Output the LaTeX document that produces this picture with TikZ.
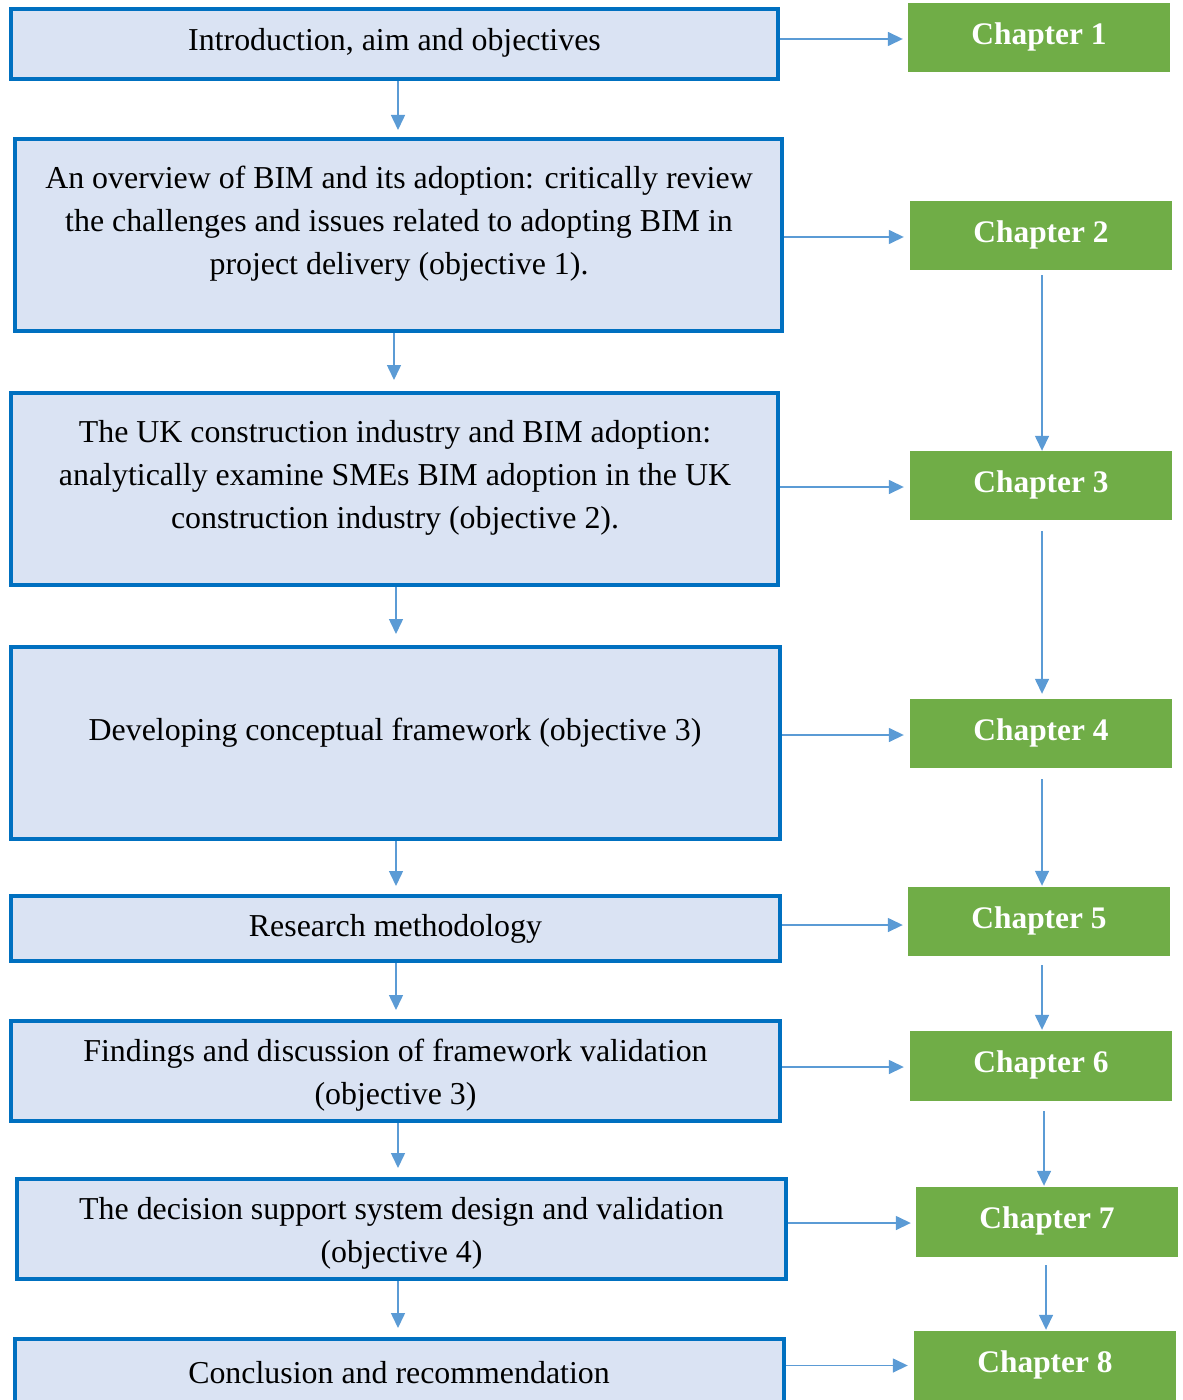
\documentclass[tikz,border=0pt]{standalone}
\usepackage{fontspec}
\setmainfont{Liberation Serif}
\usetikzlibrary{arrows.meta}
\definecolor{boxfill}{HTML}{DAE3F3}
\definecolor{boxline}{HTML}{0070C0}
\definecolor{chapfill}{HTML}{70AD47}
\definecolor{arrowcol}{HTML}{5B9BD5}
\begin{document}
\begin{tikzpicture}[x=1bp,y=-1bp,
  stagebox/.style={draw=boxline,fill=boxfill,line width=4bp,inner sep=0pt,
    minimum width=#1},
  stagebox/.default=767bp,
  chapbox/.style={fill=chapfill,inner sep=0pt,minimum width=262bp,minimum height=69bp},
  stagetext/.style={align=center,inner sep=0pt,font=\fontsize{32}{43}\selectfont},
  chaptext/.style={inner sep=0pt,text=white,font=\fontsize{31.5}{43}\selectfont\bfseries},
  arr/.style={draw=arrowcol,line width=1.5bp,-{Triangle[length=15bp,width=14bp]}}]
\useasboundingbox (0,0) rectangle (1182,1400);

% research stages (left column)
\node[stagebox,minimum height=70bp] (b1) at (394.5,44) {};
\node[stagebox,minimum height=192bp] (b2) at (398.5,235) {};
\node[stagebox,minimum height=192bp] (b3) at (394.5,489) {};
\node[stagebox=769bp,minimum height=192bp] (b4) at (395.5,743) {};
\node[stagebox=769bp,minimum height=65bp] (b5) at (395.5,928.5) {};
\node[stagebox=769bp,minimum height=100bp] (b6) at (395.5,1071) {};
\node[stagebox=769bp,minimum height=100bp] (b7) at (401.5,1229) {};
\node[stagebox=769bp,minimum height=80bp] (b8) at (399.5,1379) {};

\node[stagetext] (t1) at (394.5,43) {Introduction, aim and objectives};
\node[stagetext] (t2) at (399,224) {An overview of BIM and its adoption: critically review\\the challenges and issues related to adopting BIM in\\project delivery (objective 1).};
\node[stagetext] (t3) at (395,478) {The UK construction industry and BIM adoption:\\analytically examine SMEs BIM adoption in the UK\\construction industry (objective 2).};
\node[stagetext] (t4) at (395,733) {Developing conceptual framework (objective 3)};
\node[stagetext] (t5) at (395.5,929) {Research methodology};
\node[stagetext] (t6) at (395.5,1075) {Findings and discussion of framework validation\\(objective 3)};
\node[stagetext] (t7) at (401.5,1233) {The decision support system design and validation\\(objective 4)};
\node[stagetext] (t8) at (399,1373) {Conclusion and recommendation};

% chapters (right column)
\node[chapbox] (c1) at (1039,37.5) {};
\node[chapbox] (c2) at (1041,235.5) {};
\node[chapbox] (c3) at (1041,485.5) {};
\node[chapbox] (c4) at (1041,733.5) {};
\node[chapbox] (c5) at (1039,921.5) {};
\node[chapbox,minimum height=70bp] (c6) at (1041,1066) {};
\node[chapbox,minimum height=70bp] (c7) at (1047,1222) {};
\node[chapbox] (c8) at (1045,1365.5) {};

\node[chaptext] (h1) at (1039,37) {Chapter 1};
\node[chaptext] (h2) at (1041,235) {Chapter 2};
\node[chaptext] (h3) at (1041,485) {Chapter 3};
\node[chaptext] (h4) at (1041,733) {Chapter 4};
\node[chaptext] (h5) at (1039,921) {Chapter 5};
\node[chaptext] (h6) at (1041,1065) {Chapter 6};
\node[chaptext] (h7) at (1047,1221) {Chapter 7};
\node[chaptext] (h8) at (1045,1365) {Chapter 8};

% flow between stages
\draw[arr,shorten >=7bp] ([xshift=3.5bp]b1.south) -- ([xshift=3.5bp]b1.south |- b2.north);
\draw[arr,shorten >=11bp] ([xshift=-4.5bp]b2.south) -- ([xshift=-4.5bp]b2.south |- b3.north);
\draw[arr,shorten >=11bp] ([xshift=1.5bp]b3.south) -- ([xshift=1.5bp]b3.south |- b4.north);
\draw[arr,shorten >=8bp] ([xshift=0.5bp]b4.south) -- ([xshift=0.5bp]b4.south |- b5.north);
\draw[arr,shorten >=9bp] ([xshift=0.5bp]b5.south) -- ([xshift=0.5bp]b5.south |- b6.north);
\draw[arr,shorten >=9bp] ([xshift=2.5bp]b6.south) -- ([xshift=2.5bp]b6.south |- b7.north);
\draw[arr,shorten >=9bp] ([xshift=-3.5bp]b7.south) -- ([xshift=-3.5bp]b7.south |- b8.north);

% stage to chapter
\draw[arr,shorten >=5bp] ([yshift=-1.5bp]c1.west -| b1.east) -- ([yshift=-1.5bp]c1.west);
\draw[arr,shorten >=6bp] ([yshift=-1.5bp]c2.west -| b2.east) -- ([yshift=-1.5bp]c2.west);
\draw[arr,shorten >=6bp] ([yshift=-1.5bp]c3.west -| b3.east) -- ([yshift=-1.5bp]c3.west);
\draw[arr,shorten >=6bp] ([yshift=-1.5bp]c4.west -| b4.east) -- ([yshift=-1.5bp]c4.west);
\draw[arr,shorten >=5bp] ([yshift=-3.5bp]c5.west -| b5.east) -- ([yshift=-3.5bp]c5.west);
\draw[arr,shorten >=6bp] ([yshift=-1bp]c6.west -| b6.east) -- ([yshift=-1bp]c6.west);
\draw[arr,shorten >=5bp] ([yshift=-1bp]c7.west -| b7.east) -- ([yshift=-1bp]c7.west);
\draw[arr,shorten >=6bp] (c8.west -| b8.east) -- (c8.west);

% chapter sequence
\draw[arr,shorten <=5bp] ([xshift=1bp]c2.south) -- ([xshift=1bp]c2.south |- c3.north);
\draw[arr,shorten <=11bp,shorten >=5bp] ([xshift=1bp]c3.south) -- ([xshift=1bp]c3.south |- c4.north);
\draw[arr,shorten <=11bp,shorten >=1bp] ([xshift=1bp]c4.south) -- ([xshift=1bp]c4.south |- c5.north);
\draw[arr,shorten <=9bp,shorten >=1bp] ([xshift=3bp]c5.south) -- ([xshift=3bp]c5.south |- c6.north);
\draw[arr,shorten <=10bp,shorten >=1bp] ([xshift=3bp]c6.south) -- ([xshift=3bp]c6.south |- c7.north);
\draw[arr,shorten <=8bp,shorten >=1bp] ([xshift=-1bp]c7.south) -- ([xshift=-1bp]c7.south |- c8.north);
\end{tikzpicture}
\end{document}
